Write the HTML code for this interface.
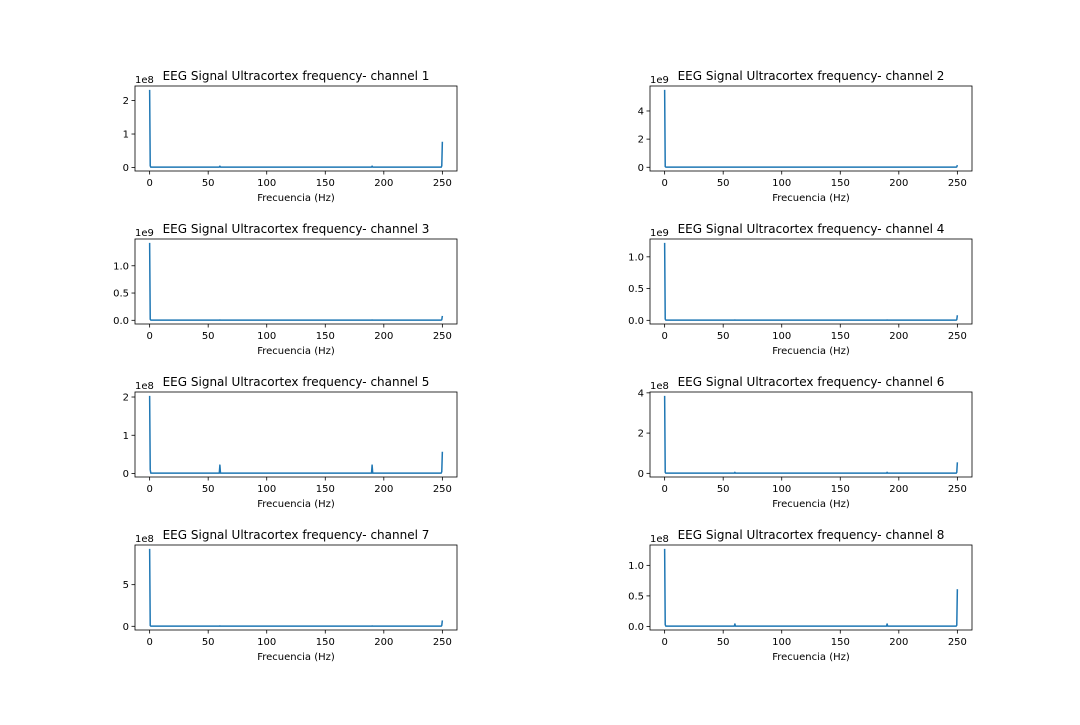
<!DOCTYPE html>
<html><head><meta charset="utf-8">
<style>
body{margin:0;background:#fff;}
svg text{font-family:"DejaVu Sans","Liberation Sans",sans-serif;fill:#000;}
</style></head>
<body>
<svg id="fig" width="1080" height="720" xmlns="http://www.w3.org/2000/svg"></svg>
<script>
const channels = [1,2,3,4,5,6,7,8];
const freqs = [0, 0.5, 1, 59.5, 60, 60.5, 189.5, 190, 190.5, 249, 249.5, 250];
const ch1 = [2.32e8, 0.05e8, 0.01e8, 0.01e8, 0.04e8, 0.01e8, 0.01e8, 0.04e8, 0.01e8, 0.01e8, 0.05e8, 0.77e8];
const ch2 = [5.5e9, 0.05e9, 0.01e9, 0.01e9, 0.01e9, 0.01e9, 0.01e9, 0.01e9, 0.01e9, 0.01e9, 0.03e9, 0.15e9];
const ch3 = [1.42e9, 0.02e9, 0.003e9, 0.003e9, 0.005e9, 0.003e9, 0.003e9, 0.005e9, 0.003e9, 0.003e9, 0.01e9, 0.08e9];
const ch4 = [1.22e9, 0.02e9, 0.003e9, 0.003e9, 0.005e9, 0.003e9, 0.003e9, 0.005e9, 0.003e9, 0.003e9, 0.01e9, 0.08e9];
const ch5 = [2.03e8, 0.1e8, 0.01e8, 0.01e8, 0.22e8, 0.01e8, 0.01e8, 0.22e8, 0.01e8, 0.01e8, 0.05e8, 0.57e8];
const ch6 = [3.85e8, 0.05e8, 0.01e8, 0.01e8, 0.05e8, 0.01e8, 0.01e8, 0.05e8, 0.01e8, 0.01e8, 0.05e8, 0.55e8];
const ch7 = [9.3e8, 0.1e8, 0.02e8, 0.02e8, 0.05e8, 0.02e8, 0.02e8, 0.05e8, 0.02e8, 0.02e8, 0.1e8, 0.7e8];
const ch8 = [1.27e8, 0.03e8, 0.005e8, 0.005e8, 0.04e8, 0.005e8, 0.005e8, 0.04e8, 0.005e8, 0.005e8, 0.02e8, 0.61e8];
const series = [ch1,ch2,ch3,ch4,ch5,ch6,ch7,ch8];
const exps = [8,9,9,9,8,8,8,8];
const yTicks = [[0,1,2],[0,2,4],[0,0.5,1.0],[0,0.5,1.0],[0,1,2],[0,2,4],[0,5],[0,0.5,1.0]];
const yTickLabels = [["0","1","2"],["0","2","4"],["0.0","0.5","1.0"],["0.0","0.5","1.0"],["0","1","2"],["0","2","4"],["0","5"],["0.0","0.5","1.0"]];
const xTicks = [0,50,100,150,200,250];

const NS="http://www.w3.org/2000/svg";
const svg=document.getElementById('fig');
function mk(tag,attrs,parent){const e=document.createElementNS(NS,tag);for(const k in attrs)e.setAttribute(k,attrs[k]);(parent||svg).appendChild(e);return e;}
const colsX=[135,650], rowsY=[86,239,392,545], W=322, H=85;
series.forEach((vals,i)=>{
  const ax0=colsX[i%2], ay0=rowsY[Math.floor(i/2)];
  const g=mk('g',{});
  
  
  const scale=Math.pow(10,exps[i]);
  const M=Math.max(...vals)/scale, mn=Math.min(...vals)/scale;
  const ylo=mn-0.05*(M-mn), yhi=M+0.05*(M-mn);
  const xs=v=>ax0+(v+12.5)/275*W;
  const ys=v=>ay0+H-(v/scale-ylo)/(yhi-ylo)*H;
  // line
  let d='';
  freqs.forEach((f,k)=>{d+=(k?'L':'M')+xs(f).toFixed(2)+','+ys(vals[k]).toFixed(2);});
  const p=mk('path',{d:d,fill:'none',stroke:'#1f77b4','stroke-width':1.5,'stroke-linejoin':'round'},g);
  
  
  const fr=mk('rect',{x:ax0,y:ay0,width:W,height:H,fill:'none',stroke:'#000','stroke-width':0.8},g);
  
  
  xTicks.forEach(t=>{
    const x=xs(t);
    mk('line',{x1:x,x2:x,y1:ay0+H,y2:ay0+H+3.5,stroke:'#000','stroke-width':0.8},g);
    const tx=mk('text',{x:x,y:ay0+H+15,'font-size':10,'text-anchor':'middle'},g);
    
    
    tx.textContent=t;
  });
  yTicks[i].forEach((t,k)=>{
    const y=ay0+H-(t-ylo)/(yhi-ylo)*H;
    mk('line',{x1:ax0-3.5,x2:ax0,y1:y,y2:y,stroke:'#000','stroke-width':0.8},g);
    const tx=mk('text',{x:ax0-6,y:y+3.5,'font-size':10,'text-anchor':'end'},g);
    
    
    tx.textContent=yTickLabels[i][k];
  });
  const ex=mk('text',{x:ax0,y:ay0-3,'font-size':10},g);
  
  
  ex.textContent='1e'+exps[i];
  const ti=mk('text',{x:ax0+W/2,y:ay0-6,'font-size':12,'text-anchor':'middle'},g);
  
  
  ti.textContent='EEG Signal Ultracortex frequency- channel '+channels[i];
  const xl=mk('text',{x:ax0+W/2,y:ay0+H+30,'font-size':10,'text-anchor':'middle'},g);
  
  
  xl.textContent='Frecuencia (Hz)';
});
</script>
</body></html>
